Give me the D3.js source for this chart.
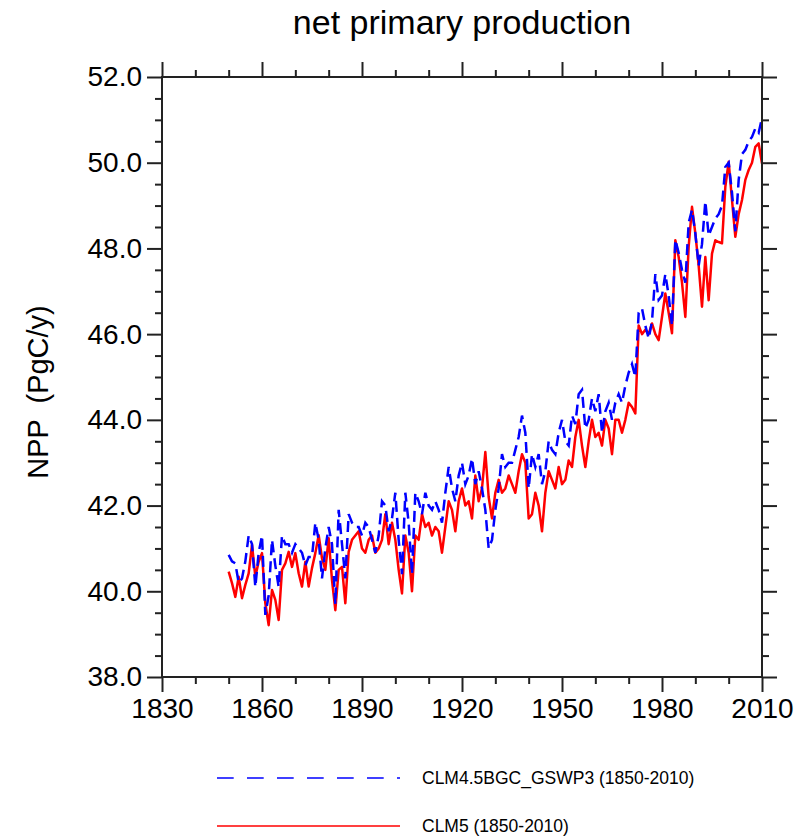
<!DOCTYPE html>
<html>
<head>
<meta charset="utf-8">
<script src="https://cdn.jsdelivr.net/npm/d3@7"></script>
<style>
  body { margin: 0; background: #fff; }
  svg { display: block; font-family: "Liberation Sans", Arial, Helvetica, sans-serif; }
</style>
</head>
<body>
<div id="chart"></div>
<script>
// Years on the x axis (one value per year)
const years = d3.range(1850, 2011);

// CLM5 (1850-2010), PgC/y
const clm5 = [
    40.46, 40.19, 39.87, 40.34, 39.84, 40.15, 40.42, 41.08, 40.34, 40.69, // 1850s
    40.89, 39.72, 39.21, 40.03, 39.80, 39.33, 40.50, 40.65, 40.92, 40.57, // 1860s
    40.89, 40.42, 40.11, 40.69, 40.11, 40.54, 40.89, 41.31, 40.77, 40.50, // 1870s
    41.24, 40.26, 39.56, 40.50, 40.57, 39.72, 40.92, 41.20, 41.30, 41.40, // 1880s
    41.00, 40.90, 41.20, 41.30, 40.90, 41.00, 41.20, 41.80, 41.10, 41.60, // 1890s
    41.20, 40.50, 39.95, 41.30, 40.90, 40.00, 41.30, 41.20, 41.80, 41.50, // 1900s
    41.60, 41.30, 41.50, 41.40, 40.90, 41.50, 42.10, 41.90, 41.40, 42.10, // 1910s
    42.40, 42.00, 42.10, 41.70, 42.70, 42.10, 42.40, 43.25, 42.20, 41.70, // 1920s
    42.30, 42.60, 42.30, 42.40, 42.70, 42.50, 42.30, 42.80, 43.20, 43.00, // 1930s
    41.70, 41.80, 42.30, 42.00, 41.40, 42.30, 42.80, 42.60, 42.40, 42.90, // 1940s
    42.50, 42.60, 43.05, 42.90, 43.60, 44.00, 43.40, 42.90, 43.50, 44.00, // 1950s
    43.60, 43.70, 43.40, 44.00, 43.80, 43.20, 44.00, 44.00, 43.70, 44.00, // 1960s
    44.40, 44.30, 44.15, 46.20, 46.00, 46.10, 46.00, 46.25, 46.00, 45.86, // 1970s
    46.40, 46.95, 46.50, 46.02, 48.19, 47.80, 47.20, 46.40, 48.04, 48.97, // 1980s
    48.35, 47.60, 46.64, 47.80, 46.79, 47.88, 48.19, 48.15, 48.12, 49.44, // 1990s
    50.02, 49.13, 48.27, 48.80, 49.13, 49.60, 49.83, 50.00, 50.37, 50.45, // 2000s
    49.98                                                                  // 2010
];

// CLM4.5BGC_GSWP3 (1850-2010), PgC/y
const clm45 = [
    40.85, 40.70, 40.65, 40.20, 40.30, 40.70, 41.30, 41.10, 40.10, 40.90,
    41.30, 39.45, 39.90, 41.20, 40.60, 40.10, 41.30, 41.10, 41.10, 40.90,
    41.10, 41.00, 40.90, 40.60, 40.80, 40.80, 41.60, 41.20, 40.30, 41.00,
    41.50, 41.10, 39.70, 41.90, 41.10, 40.30, 41.80, 41.60, 41.50, 41.50,
    41.30, 41.60, 41.50, 41.20, 40.90, 41.30, 42.10, 42.00, 41.40, 41.70,
    42.30, 41.20, 40.40, 42.30, 41.60, 40.40, 42.30, 42.10, 41.80, 42.30,
    42.00, 41.90, 42.10, 41.90, 41.60, 42.30, 42.90, 42.40, 42.10, 42.70,
    43.00, 42.50, 42.70, 43.10, 42.50, 42.80, 42.40, 41.90, 41.00, 41.20,
    41.90, 42.40, 43.20, 42.90, 43.00, 43.00, 43.30, 43.60, 44.10, 43.70,
    42.40, 43.20, 42.90, 43.20, 42.50, 42.80, 43.50, 43.30, 43.20, 43.70,
    44.00, 43.50, 43.40, 44.10, 43.90, 44.60, 44.70, 43.80, 44.00, 44.50,
    44.20, 44.60, 43.70, 44.20, 44.40, 44.00, 44.40, 44.60, 44.40, 44.80,
    45.10, 45.30, 45.00, 46.50, 46.60, 46.20, 45.90, 46.30, 47.40, 46.80,
    46.90, 47.40, 46.90, 46.20, 48.20, 47.90, 47.50, 47.20, 48.60, 48.90,
    48.35, 47.60, 48.10, 49.10, 48.30, 48.50, 48.70, 48.80, 49.00, 49.90,
    50.00, 49.30, 48.40, 49.60, 50.20, 50.30, 50.50, 50.60, 50.80, 50.70,
    51.05
];

// Tick values
const xMajor = [1830, 1860, 1890, 1920, 1950, 1980, 2010];
const xMinor = [1840, 1850, 1870, 1880, 1900, 1910, 1930, 1940, 1960, 1970, 1990, 2000];
const yMajor = [38, 40, 42, 44, 46, 48, 50, 52];
const yMinor = [38.5, 39, 39.5, 40.5, 41, 41.5, 42.5, 43, 43.5, 44.5, 45, 45.5,
                46.5, 47, 47.5, 48.5, 49, 49.5, 50.5, 51, 51.5];

const seriesNames = ['CLM4.5BGC_GSWP3 (1850-2010)', 'CLM5 (1850-2010)'];

const width = 805;
const height = 837;
const margin = { top: 77, right: 43, bottom: 160, left: 162 };

const svg = d3.select('#chart')
    .append('svg')
    .attr('width', width)
    .attr('height', height);

const x = d3.scaleLinear()
    .domain([1830, 2010])
    .range([margin.left, width - margin.right]);

const y = d3.scaleLinear()
    .domain([38, 52])
    .range([height - margin.bottom, margin.top]);

const axisColor = '#222';

function styleAxis(g) {
    g.select('.domain').remove();
    g.selectAll('.tick line').attr('stroke', axisColor).attr('stroke-width', 2);
    g.selectAll('.tick text')
        .attr('fill', '#000')
        .attr('font-size', 28)
        .attr('font-family', '"Liberation Sans", Arial, sans-serif');
}

// Left axis with labels
svg.append('g')
    .attr('transform', `translate(${margin.left},0)`)
    .call(d3.axisLeft(y).tickValues(yMajor).tickSize(15).tickPadding(5).tickFormat(d3.format('.1f')))
    .call(styleAxis);
svg.append('g')
    .attr('transform', `translate(${margin.left},0)`)
    .call(d3.axisLeft(y).tickValues(yMinor).tickSize(7).tickFormat(''))
    .call(styleAxis);

// Right axis, ticks only
svg.append('g')
    .attr('transform', `translate(${width - margin.right},0)`)
    .call(d3.axisRight(y).tickValues(yMajor).tickSize(15).tickFormat(''))
    .call(styleAxis);
svg.append('g')
    .attr('transform', `translate(${width - margin.right},0)`)
    .call(d3.axisRight(y).tickValues(yMinor).tickSize(7).tickFormat(''))
    .call(styleAxis);

// Bottom axis with labels
svg.append('g')
    .attr('transform', `translate(0,${height - margin.bottom})`)
    .call(d3.axisBottom(x).tickValues(xMajor).tickSize(15).tickPadding(6).tickFormat(d3.format('d')))
    .call(styleAxis);
svg.append('g')
    .attr('transform', `translate(0,${height - margin.bottom})`)
    .call(d3.axisBottom(x).tickValues(xMinor).tickSize(7).tickFormat(''))
    .call(styleAxis);

// Top axis, ticks only
svg.append('g')
    .attr('transform', `translate(0,${margin.top})`)
    .call(d3.axisTop(x).tickValues(xMajor).tickSize(15).tickFormat(''))
    .call(styleAxis);
svg.append('g')
    .attr('transform', `translate(0,${margin.top})`)
    .call(d3.axisTop(x).tickValues(xMinor).tickSize(7).tickFormat(''))
    .call(styleAxis);

// Data lines
const line = d3.line()
    .x((d, i) => x(years[i]))
    .y(d => y(d));

svg.append('path')
    .datum(clm5)
    .attr('fill', 'none')
    .attr('stroke', '#ff0000')
    .attr('stroke-width', 2.5)
    .attr('stroke-linejoin', 'round')
    .attr('d', line);

svg.append('path')
    .datum(clm45)
    .attr('fill', 'none')
    .attr('stroke', '#0000ff')
    .attr('stroke-width', 2.5)
    .attr('stroke-dasharray', '11,6')
    .attr('d', line);

// Frame
svg.append('rect')
    .attr('x', margin.left)
    .attr('y', margin.top)
    .attr('width', width - margin.left - margin.right)
    .attr('height', height - margin.top - margin.bottom)
    .attr('fill', 'none')
    .attr('stroke', axisColor)
    .attr('stroke-width', 2);

// Title
svg.append('text')
    .attr('x', (margin.left + width - margin.right) / 2)
    .attr('y', 34)
    .attr('text-anchor', 'middle')
    .attr('font-size', 34)
    .text('net primary production');

// Y axis label
svg.append('text')
    .attr('transform', 'translate(38,392) rotate(-90)')
    .attr('text-anchor', 'middle')
    .attr('dy', '0.35em')
    .attr('font-size', 29)
    .style('white-space', 'pre')
    .text('NPP  (PgC/y)');

// Legend
const legend = [
    { name: seriesNames[0], color: '#0000ff', dash: '16.7,13.3', y: 778 },
    { name: seriesNames[1], color: '#ff0000', dash: null, y: 826 }
];

legend.forEach(item => {
    svg.append('line')
        .attr('x1', 217)
        .attr('x2', 400)
        .attr('y1', item.y)
        .attr('y2', item.y)
        .attr('stroke', item.color)
        .attr('stroke-width', 1.3)
        .attr('stroke-dasharray', item.dash);
    svg.append('text')
        .attr('x', 422)
        .attr('y', item.y)
        .attr('dy', '0.35em')
        .attr('font-size', 17.5)
        .text(item.name);
});
</script>
</body>
</html>
